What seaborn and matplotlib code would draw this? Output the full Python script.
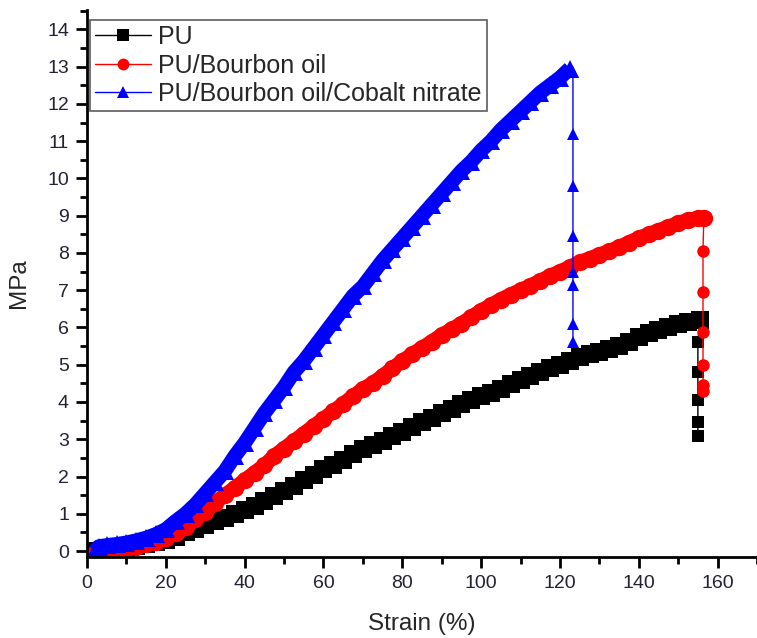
import numpy as np
import pandas as pd
import matplotlib
matplotlib.use("Agg")
import matplotlib.pyplot as plt
import seaborn as sns
from matplotlib.lines import Line2D
from matplotlib.ticker import MultipleLocator

# ---------------- data ----------------
pu_x = [2, 5, 7.5, 10, 12.5, 15, 17.5, 20, 22.5, 25, 27.5, 30, 32.5, 35, 37.5, 40,
        42.5, 45, 47.5, 50, 52.5, 55, 57.5, 60, 62.5, 65, 67.5, 70, 72.5, 75, 77.5,
        80, 82.5, 85, 87.5, 90, 92.5, 95, 97.5, 100, 102.5, 105, 107.5, 110, 112.5,
        115, 117.5, 120, 122.5, 125, 127.5, 130, 132.5, 135, 137.5, 140, 142.5, 145,
        147.5, 150, 152.5, 155.5]
pu_y = [0.0, -0.02, 0.02, 0.08, 0.13, 0.18, 0.24, 0.3, 0.38, 0.5, 0.6, 0.7, 0.8, 0.9,
        1.0, 1.1, 1.22, 1.35, 1.48, 1.6, 1.75, 1.9, 2.05, 2.2, 2.32, 2.45, 2.6, 2.75,
        2.85, 2.95, 3.08, 3.2, 3.32, 3.45, 3.58, 3.7, 3.82, 3.95, 4.05, 4.15, 4.25,
        4.35, 4.48, 4.6, 4.7, 4.8, 4.9, 5.0, 5.1, 5.2, 5.28, 5.35, 5.42, 5.5, 5.62,
        5.75, 5.85, 5.92, 6.0, 6.08, 6.15, 6.2]
pu_drop_x = [155.5, 155, 155, 155, 155, 155]
pu_drop_y = [6.2, 5.6, 4.8, 4.05, 3.45, 3.1]

bo_x = [2, 4, 6, 7.5, 10, 12.5, 15, 17.5, 20, 22.5, 25, 27.5, 30, 32.5, 35, 37.5, 40,
        42.5, 45, 47.5, 50, 52.5, 55, 57.5, 60, 62.5, 65, 67.5, 70, 72.5, 75, 77.5,
        80, 82.5, 85, 87.5, 90, 92.5, 95, 97.5, 100, 102.5, 105, 107.5, 110, 112.5,
        115, 117.5, 120, 122.5, 125, 127.5, 130, 132.5, 135, 137.5, 140, 142.5, 145,
        147.5, 150, 152.5, 155, 156.5]
bo_y = [-0.05, -0.1, -0.08, -0.02, 0.05, 0.12, 0.18, 0.25, 0.35, 0.48, 0.65, 0.85,
        1.05, 1.3, 1.5, 1.7, 1.9, 2.1, 2.3, 2.55, 2.75, 2.95, 3.15, 3.35, 3.55, 3.75,
        3.95, 4.15, 4.35, 4.5, 4.7, 4.9, 5.1, 5.28, 5.45, 5.62, 5.8, 5.95, 6.1, 6.28,
        6.45, 6.6, 6.75, 6.88, 7.0, 7.12, 7.25, 7.38, 7.5, 7.62, 7.75, 7.85, 7.95,
        8.05, 8.15, 8.28, 8.4, 8.5, 8.6, 8.7, 8.8, 8.88, 8.93, 8.95]
bo_drop_x = [156.5, 156.3, 156.3, 156.3, 156.3, 156.3, 156.3]
bo_drop_y = [8.95, 8.05, 6.95, 5.88, 4.98, 4.45, 4.3]

cn_x = [2, 3, 5, 7.5, 10, 12.5, 15, 17.5, 20, 22.5, 25, 27.5, 30, 32.5, 35, 37.5, 40,
        42.5, 45, 47.5, 50, 52.5, 55, 57.5, 60, 62.5, 65, 67.5, 70, 72.5, 75, 77.5,
        80, 82.5, 85, 87.5, 90, 92.5, 95, 97.5, 100, 102.5, 105, 107.5, 110, 112.5,
        115, 117.5, 120, 122.5]
cn_y = [0.0, 0.12, 0.15, 0.18, 0.22, 0.28, 0.35, 0.45, 0.58, 0.8, 1.0, 1.25, 1.55,
        1.85, 2.15, 2.55, 2.9, 3.3, 3.7, 4.05, 4.4, 4.8, 5.1, 5.45, 5.8, 6.15, 6.5, 6.85,
        7.1, 7.45, 7.8, 8.1, 8.4, 8.7, 9.0, 9.3, 9.6, 9.9, 10.2, 10.45, 10.75, 11.0,
        11.3, 11.55, 11.8, 12.05, 12.3, 12.5, 12.7, 12.95]
cn_drop_x = [122.5, 123.3, 123.3, 123.3, 123.3, 123.3, 123.3, 123.3, 123.3]
cn_drop_y = [12.95, 12.85, 11.2, 9.8, 8.45, 7.5, 7.15, 6.1, 5.6]

labels = ["PU", "PU/Bourbon oil", "PU/Bourbon oil/Cobalt nitrate"]
colors = ["black", "red", "blue"]
markers = ["s", "o", "^"]

# ---------------- figure ----------------
sns.set_style("ticks")
plt.rcParams["font.family"] = ["Liberation Sans", "DejaVu Sans"]

fig = plt.figure(figsize=(7.57, 6.38), dpi=100)
ax = fig.add_axes([87 / 757, 81 / 638, 670 / 757, 547 / 638])

curves = [(pu_x, pu_y, pu_drop_x, pu_drop_y),
          (bo_x, bo_y, bo_drop_x, bo_drop_y),
          (cn_x, cn_y, cn_drop_x, cn_drop_y)]

for (cx, cy, dx, dy), lab, col, mk in zip(curves, labels, colors, markers):
    df = pd.DataFrame({"x": cx, "y": cy})
    dd = pd.DataFrame({"x": dx, "y": dy})
    # drop segment: thin line with separated markers
    sns.lineplot(data=dd, x="x", y="y", ax=ax, sort=False, estimator=None,
                 color=col, lw=1.0, marker=mk, markersize=9, markeredgewidth=0,
                 legend=False)
    # dense marker band of the main curve
    sns.lineplot(data=df, x="x", y="y", ax=ax, sort=False, estimator=None,
                 color=col, lw=10.5, solid_capstyle="butt", legend=False)
    sns.lineplot(data=df, x="x", y="y", ax=ax, sort=False, estimator=None,
                 color=col, lw=1.0, marker=mk, markersize=12.5, markeredgewidth=0,
                 legend=False)

ax.set_xlim(0, 170)
ax.set_ylim(-0.16, 14.52)
ax.xaxis.set_major_locator(MultipleLocator(20))
ax.xaxis.set_minor_locator(MultipleLocator(10))
ax.yaxis.set_major_locator(MultipleLocator(1))
ax.yaxis.set_minor_locator(MultipleLocator(0.5))

for s in ["top", "right"]:
    ax.spines[s].set_visible(False)
for s in ["left", "bottom"]:
    ax.spines[s].set_linewidth(2)
    ax.spines[s].set_color("black")

ax.tick_params(which="major", direction="out", length=8, width=2, pad=5,
               labelsize=14, labelcolor="#222233", color="black")
ax.tick_params(which="minor", direction="out", length=5, width=2, color="black")

ax.set_xlabel("Strain (%)", fontsize=17.5, labelpad=15)
ax.set_ylabel("MPa", fontsize=17.5, labelpad=12)

handles = [Line2D([0], [0], color=c, lw=1.0, marker=m, markersize=8.5,
                  markeredgewidth=0) for c, m in zip(colors, markers)]
leg = ax.legend(handles, labels, loc="upper left", bbox_to_anchor=(0.004, 0.9817),
                borderaxespad=0, fontsize=18, frameon=True, fancybox=False,
                handlelength=2.25, handletextpad=0.3, labelspacing=0.18,
                borderpad=0.2)
leg.get_frame().set_edgecolor("#333333")
leg.get_frame().set_linewidth(1.2)

fig.savefig("out.png", dpi=100)
